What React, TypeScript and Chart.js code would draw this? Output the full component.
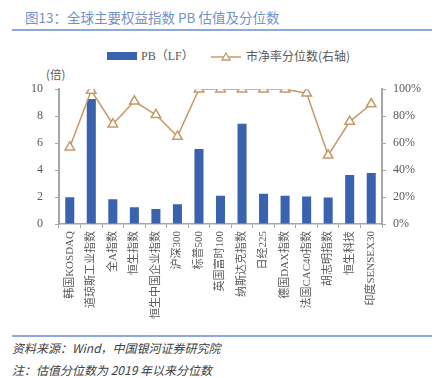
import React, { useEffect, useRef } from "react";
import { Chart, registerables } from "chart.js";

Chart.register(...registerables);

const categories = [
  "韩国KOSDAQ", "道琼斯工业指数", "全A指数", "恒生指数", "恒生中国企业指数", "沪深300",
  "标普500", "英国富时100", "纳斯达克指数", "日经225", "德国DAX指数", "法国CAC40指数",
  "胡志明指数", "恒生科技", "印度SENSEX30",
];
const pbValues = [1.98, 9.27, 1.84, 1.25, 1.11, 1.46, 5.56, 2.1, 7.43, 2.24, 2.09, 2.04, 1.97, 3.64, 3.79];
const percentileValues = [57, 99, 74, 91, 81, 65, 100, 100, 100, 100, 100, 97, 51, 76, 89];
const leftTicks = [0, 2, 4, 6, 8, 10];
const rightTicks = [0, 20, 40, 60, 80, 100];

const BAR = "#3a62ae";
const LINE = "#c49b68";
const AXIS = "#a6a6a6";
const TICK = "#595959";
const SERIF = "'Liberation Serif', 'Noto Sans CJK SC', serif";

export default function App() {
  const ref = useRef<HTMLCanvasElement | null>(null);

  useEffect(() => {
    document.body.style.margin = "0";
    const ctx = ref.current!;
    const chart = new Chart(ctx, {
      data: {
        labels: categories,
        datasets: [
          {
            type: "line",
            label: "市净率分位数(右轴)",
            data: percentileValues,
            yAxisID: "y1",
            borderColor: LINE,
            borderWidth: 1.5,
            pointStyle: "triangle",
            pointRadius: 5.5,
            pointBorderWidth: 1.5,
            pointBackgroundColor: "#ffffff",
            pointBorderColor: LINE,
            order: 0,
          },
          {
            type: "bar",
            label: "PB（LF）",
            data: pbValues,
            yAxisID: "y",
            backgroundColor: BAR,
            categoryPercentage: 1,
            barPercentage: 0.42,
            order: 1,
          },
        ],
      },
      options: {
        animation: false,
        responsive: false,
        maintainAspectRatio: false,
        layout: { padding: { top: 17, left: 0, right: 0, bottom: 0 } },
        plugins: { legend: { display: false }, tooltip: { enabled: false } },
        scales: {
          x: {
            type: "category",
            offset: true,
            grid: {
              offset: true,
              drawOnChartArea: false,
              drawTicks: true,
              tickLength: 4,
              color: AXIS,
            },
            border: { color: AXIS, width: 1.5 },
            ticks: {
              color: TICK,
              font: { family: SERIF, size: 11 },
              minRotation: 90,
              maxRotation: 90,
              autoSkip: false,
              padding: 3,
            },
            afterFit: (s: any) => {
              s.height = 106;
            },
          },
          y: {
            type: "linear",
            position: "left",
            min: 0,
            max: 10,
            afterBuildTicks: (s: any) => {
              s.ticks = leftTicks.map((v) => ({ value: v }));
            },
            grid: { drawOnChartArea: false, tickLength: 4, color: AXIS },
            border: { color: AXIS, width: 2 },
            ticks: { color: TICK, font: { family: SERIF, size: 12 }, padding: 12 },
            afterFit: (s: any) => {
              s.width = 59;
            },
          },
          y1: {
            type: "linear",
            position: "right",
            min: 0,
            max: 100,
            afterBuildTicks: (s: any) => {
              s.ticks = rightTicks.map((v) => ({ value: v }));
            },
            grid: { drawOnChartArea: false, tickLength: 4, color: AXIS },
            border: { color: AXIS, width: 2 },
            ticks: {
              color: TICK,
              font: { family: SERIF, size: 12 },
              padding: 7,
              callback: (v: any) => `${v}%`,
            },
            afterFit: (s: any) => {
              s.width = 54;
            },
          },
        },
      },
    } as any);
    return () => chart.destroy();
  }, []);

  const cjk = "'Noto Sans CJK SC', 'Liberation Serif', sans-serif";
  return (
    <div style={{ position: "relative", width: 436, height: 378, background: "#fff", overflow: "hidden" }}>
      <div
        style={{
          position: "absolute", left: 25, top: 8, fontFamily: cjk, fontSize: 13.5,
          color: "#7391c9", whiteSpace: "nowrap", lineHeight: "18px",
        }}
      >
        图13：全球主要权益指数 PB 估值及分位数
      </div>
      <div style={{ position: "absolute", left: 12, top: 29, width: 420, height: 1.5, background: "#8eaadb" }} />
      <div style={{ position: "absolute", left: 107, top: 52, width: 30, height: 8, background: BAR }} />
      <div style={{ position: "absolute", left: 141, top: 48, fontFamily: SERIF, fontSize: 12, color: TICK, lineHeight: "16px", whiteSpace: "nowrap" }}>
        PB（LF）
      </div>
      <svg style={{ position: "absolute", left: 210, top: 50 }} width={32} height={14}>
        <line x1={1} y1={7} x2={31} y2={7} stroke={LINE} strokeWidth={1.5} />
        <polygon points="16,3 20,10 12,10" fill="#fff" stroke={LINE} strokeWidth={1.3} />
      </svg>
      <div style={{ position: "absolute", left: 246, top: 48, fontFamily: cjk, fontSize: 12, color: TICK, lineHeight: "16px", whiteSpace: "nowrap" }}>
        市净率分位数(右轴)
      </div>
      <div style={{ position: "absolute", left: 46, top: 66, fontFamily: cjk, fontSize: 11.5, color: TICK, lineHeight: "16px", whiteSpace: "nowrap" }}>
        (倍)
      </div>
      <canvas ref={ref} width={436} height={260} style={{ position: "absolute", left: 0, top: 70, width: 436, height: 260 }} />
      <div style={{ position: "absolute", left: 12, top: 335, width: 420, height: 1.5, background: "#8eaadb" }} />
      <div style={{ position: "absolute", left: 12, top: 340, fontFamily: cjk, fontSize: 12, fontStyle: "italic", color: "#404040", lineHeight: "16px", whiteSpace: "nowrap" }}>
        资料来源：Wind，中国银河证券研究院
      </div>
      <div style={{ position: "absolute", left: 12, top: 362, fontFamily: cjk, fontSize: 12, fontStyle: "italic", color: "#404040", lineHeight: "16px", whiteSpace: "nowrap" }}>
        注：估值分位数为 2019 年以来分位数
      </div>
    </div>
  );
}
